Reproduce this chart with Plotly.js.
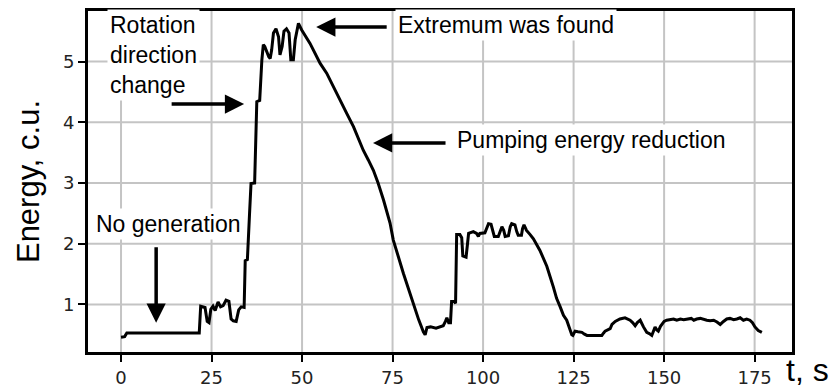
<!DOCTYPE html>
<html>
<head>
<meta charset="utf-8">
<script src="https://cdn.plot.ly/plotly-3.0.1.min.js"></script>
<style>html,body{margin:0;padding:0;background:#fff;}#chart{width:833px;height:389px;}</style>
</head>
<body>
<div id="chart"></div>
<script>
// Time, s
var timeS = [0, 1, 1.6, 6, 10, 15, 21.6, 22.0, 22.6, 23.2, 23.8, 24.3, 24.8, 25.4, 26.0, 26.8, 27.5, 28.2, 29.0, 29.8, 30.4, 31.0, 31.8, 32.5, 33.2, 34.0,
  34.3, 34.9, 35.5, 35.9, 36.9, 37.2, 37.5, 38.3, 38.6, 38.9, 39.3, 39.7, 40.8, 41.2, 41.6, 42.1, 42.8, 43.5, 43.9, 44.5, 45.0, 45.7, 46.4, 46.9, 47.6, 48.1, 49.0, 49.9,
  52.2, 55.0, 56.8, 58.5, 60.5, 62.3, 64.2, 65.5, 66.9, 68.3, 69.7, 71.0, 72.5, 74.3, 75.2, 78.0, 80.7, 82.2, 83.5, 84.0, 84.5, 85.5, 87.0, 88.0, 89.0, 89.6, 90.0, 90.5, 91.0,
  91.3, 92.0, 92.4, 92.7, 93.6, 94.1, 94.4, 95.3, 95.7, 96.0, 97.3, 98.2, 98.7, 99.1, 100.5, 101.0, 101.5, 102.2, 102.7, 103.1, 104.2, 104.7, 105.2, 105.7, 106.1, 107.0,
  107.5, 107.9, 108.8, 109.3, 109.7, 110.6, 110.9, 111.3, 112.0, 113.0, 113.9, 115.7, 117.6, 119.4, 120.3, 121.3, 122.2, 123.1, 124.5, 124.8, 125.4, 126.2, 127.3, 128.0,
  128.7, 130.6, 132.8, 133.3, 133.7, 135.1, 135.6, 136.5, 137.8, 139.2, 140.0, 140.6, 141.3, 142.0, 142.6, 143.4, 144.3, 145.2, 145.9, 146.6, 147.0, 147.5, 148.0, 148.4,
  149.0, 149.4, 150.0, 150.7, 151.5, 152.6, 153.5, 154.5, 155.4, 156.5, 157.5, 158.2, 159.0, 160.0, 161.0, 161.8, 162.7, 163.7, 164.6, 165.5, 166.4, 167.3, 168.2, 169.2,
  170.1, 171.0, 171.9, 172.8, 173.7, 174.4, 175.1, 176.0, 177.0];
// Energy, c.u.
var energyCU = [0.46, 0.47, 0.53, 0.53, 0.535, 0.53, 0.53, 0.97, 0.96, 0.95, 0.72, 0.70, 0.92, 0.97, 0.90, 1.04, 0.96, 0.98, 1.07, 1.05, 0.76, 0.73, 0.72, 0.91, 0.96, 0.95,
  1.72, 1.74, 2.5, 2.99, 3.0, 3.9, 4.34, 4.36, 4.75, 5.03, 5.28, 5.25, 5.08, 5.05, 5.19, 5.47, 5.54, 5.41, 5.11, 5.25, 5.50, 5.54, 5.47, 5.03, 5.03, 5.36, 5.63, 5.52,
  5.30, 4.97, 4.81, 4.60, 4.37, 4.15, 3.93, 3.75, 3.54, 3.38, 3.21, 3.00, 2.72, 2.34, 2.06, 1.51, 1.01, 0.75, 0.55, 0.50, 0.62, 0.63, 0.61, 0.63, 0.65, 0.72, 0.78, 0.70, 0.70,
  1.05, 1.05, 1.02, 2.15, 2.15, 2.10, 1.80, 1.78, 2.00, 2.17, 2.20, 2.17, 2.12, 2.17, 2.18, 2.25, 2.33, 2.32, 2.18, 2.12, 2.12, 2.20, 2.28, 2.22, 2.12, 2.13,
  2.28, 2.33, 2.31, 2.20, 2.14, 2.14, 2.25, 2.31, 2.22, 2.15, 2.08, 1.89, 1.63, 1.29, 1.10, 0.96, 0.82, 0.74, 0.50, 0.49, 0.56, 0.55, 0.54, 0.51,
  0.49, 0.49, 0.49, 0.53, 0.56, 0.60, 0.67, 0.72, 0.76, 0.78, 0.76, 0.74, 0.70, 0.65, 0.70, 0.74, 0.63, 0.54, 0.52, 0.49, 0.55, 0.63, 0.58, 0.56,
  0.64, 0.67, 0.72, 0.74, 0.75, 0.76, 0.74, 0.76, 0.75, 0.76, 0.77, 0.74, 0.76, 0.77, 0.75, 0.74, 0.73, 0.74, 0.71, 0.67, 0.72, 0.76, 0.77, 0.75,
  0.76, 0.78, 0.74, 0.76, 0.74, 0.70, 0.63, 0.57, 0.54];

var xTickVals = [0, 25, 50, 75, 100, 125, 150, 175];
var yTickVals = [1, 2, 3, 4, 5];
var xRange = [-9.4, 185.6];
var yRange = [0.2, 5.85];

// grid segments built from the tick arrays
var gridX = [], gridY = [];
xTickVals.forEach(function (v) { gridX.push(v, v, null); gridY.push(yRange[0], yRange[1], null); });
yTickVals.forEach(function (v) { gridX.push(xRange[0], xRange[1], null); gridY.push(v, v, null); });

var labelFont = {family: 'Liberation Sans, Arial, sans-serif', size: 23, color: '#000'};

function arrow(x, y, ax, ay) {
  return {xref: 'x', yref: 'y', x: x, y: y, ax: ax, ay: ay, showarrow: true, arrowhead: 2, arrowsize: 1.1,
    arrowwidth: 3.5, arrowcolor: '#000', text: ''};
}
function label(text, x, y, xanchor) {
  return {xref: 'x', yref: 'y', x: x, y: y, text: text, showarrow: false, xanchor: xanchor, yanchor: 'middle',
    align: 'left', font: labelFont, bgcolor: '#fff', borderpad: 2};
}

var data = [
  {x: gridX, y: gridY, type: 'scatter', mode: 'lines', line: {color: '#c4c4c4', width: 2}, hoverinfo: 'skip', connectgaps: false},
  {x: timeS, y: energyCU, type: 'scatter', mode: 'lines', line: {color: '#000', width: 3}}
];

function axisBase() {
  return {
    showline: true, mirror: true, linecolor: '#000', linewidth: 2,
    ticks: 'outside', ticklen: 7, tickwidth: 2, tickcolor: '#000',
    showgrid: false, zeroline: false,
    tickfont: {family: 'DejaVu Sans, sans-serif', size: 18, color: '#222'}
  };
}

var layout = {
  width: 833, height: 389,
  margin: {l: 87, r: 40, t: 10, b: 36},
  paper_bgcolor: '#fff', plot_bgcolor: '#fff',
  showlegend: false,
  xaxis: Object.assign(axisBase(), {range: xRange, tickvals: xTickVals, ticktext: xTickVals.map(String)}),
  yaxis: Object.assign(axisBase(), {range: yRange, tickvals: yTickVals, ticktext: yTickVals.map(String),
    title: {text: 'Energy, c.u.', font: {family: 'Liberation Sans, Arial, sans-serif', size: 31, color: '#000'}, standoff: 14}}),
  shapes: [
    {type: 'rect', xref: 'paper', yref: 'paper', x0: 0, x1: 1, y0: 0, y1: 1, line: {color: '#000', width: 2}, layer: 'above'}
  ],
  annotations: [
    label('Rotation<br>direction<br>change', -3.8, 5.11, 'left'),
    label('No generation', 13.0, 2.32, 'center'),
    label('Extremum was found', 75.8, 5.60, 'left'),
    label('Pumping energy reduction', 92.0, 3.71, 'left'),
    arrow(34.0, 4.30, -74, 0),
    arrow(9.7, 0.70, 0, -77),
    arrow(53.9, 5.57, 72, 0),
    arrow(69.6, 3.66, 74, 0),
    {xref: 'paper', yref: 'paper', x: 0.987, y: -0.05, xanchor: 'left', yanchor: 'middle', text: 't, s', showarrow: false,
     font: {family: 'Liberation Sans, Arial, sans-serif', size: 32, color: '#000'}}
  ]
};

Plotly.newPlot('chart', data, layout, {displayModeBar: false, staticPlot: true});
</script>
</body>
</html>
